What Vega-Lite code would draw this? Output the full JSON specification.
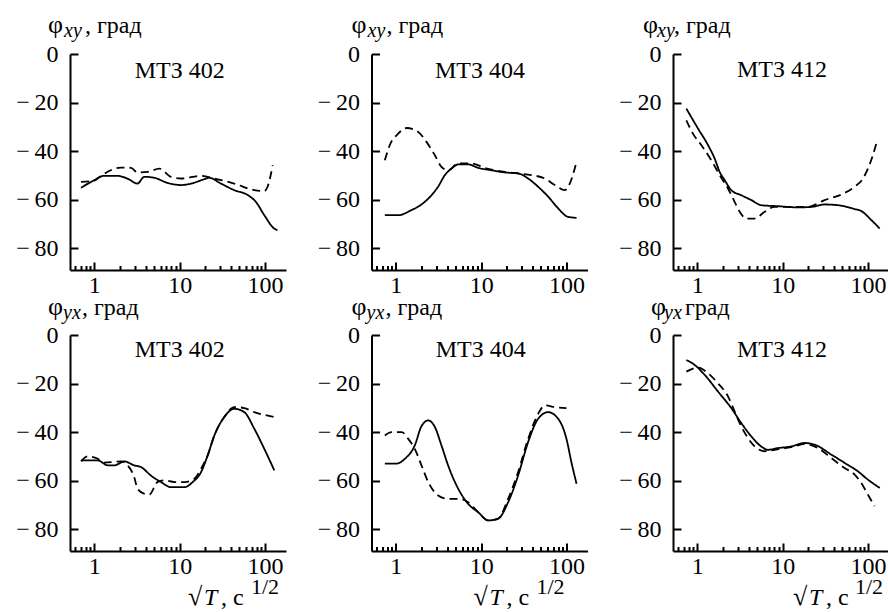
{
  "$schema": "https://vega.github.io/schema/vega-lite/v6.json",
  "background": "white",
  "padding": {"left": 15, "top": 12, "right": 0, "bottom": 0},
  "config": {
    "view": {"stroke": null},
    "font": "Liberation Serif",
    "axis": {"grid": false, "domain": true, "ticks": true, "domainColor": "#000000", "domainWidth": 2, "domainOpacity": 1, "tickColor": "#000000", "tickWidth": 2, "tickOpacity": 1, "labelColor": "black", "labelFont": "Liberation Serif", "labelFontSize": 24, "zindex": 2},
    "text": {"font": "Liberation Serif", "color": "black"}
  },
  "datasets": {
    "curves": [
      {"panel": "xy402", "curve": "solid", "T": 0.70, "phi": -55.1},
      {"panel": "xy402", "curve": "solid", "T": 1.0, "phi": -52},
      {"panel": "xy402", "curve": "solid", "T": 1.3, "phi": -50.2},
      {"panel": "xy402", "curve": "solid", "T": 1.88, "phi": -50.2},
      {"panel": "xy402", "curve": "solid", "T": 2.5, "phi": -51.5},
      {"panel": "xy402", "curve": "solid", "T": 3.2, "phi": -53.4},
      {"panel": "xy402", "curve": "solid", "T": 3.86, "phi": -50.6},
      {"panel": "xy402", "curve": "solid", "T": 5.05, "phi": -51},
      {"panel": "xy402", "curve": "solid", "T": 7.2, "phi": -53.1},
      {"panel": "xy402", "curve": "solid", "T": 10.4, "phi": -54},
      {"panel": "xy402", "curve": "solid", "T": 13.6, "phi": -53.4},
      {"panel": "xy402", "curve": "solid", "T": 19.4, "phi": -51.6},
      {"panel": "xy402", "curve": "solid", "T": 22.2, "phi": -51},
      {"panel": "xy402", "curve": "solid", "T": 30.5, "phi": -53.4},
      {"panel": "xy402", "curve": "solid", "T": 43.6, "phi": -56.1},
      {"panel": "xy402", "curve": "solid", "T": 62.6, "phi": -58.1},
      {"panel": "xy402", "curve": "solid", "T": 78, "phi": -60.9},
      {"panel": "xy402", "curve": "solid", "T": 98, "phi": -66.4},
      {"panel": "xy402", "curve": "solid", "T": 128, "phi": -71.9},
      {"panel": "xy402", "curve": "solid", "T": 140, "phi": -72.6},
      {"panel": "xy402", "curve": "dashed", "T": 0.70, "phi": -52.7},
      {"panel": "xy402", "curve": "dashed", "T": 1.0, "phi": -52.2},
      {"panel": "xy402", "curve": "dashed", "T": 1.2, "phi": -50.2},
      {"panel": "xy402", "curve": "dashed", "T": 2.05, "phi": -46.8},
      {"panel": "xy402", "curve": "dashed", "T": 2.7, "phi": -46.9},
      {"panel": "xy402", "curve": "dashed", "T": 3.2, "phi": -48.8},
      {"panel": "xy402", "curve": "dashed", "T": 4.2, "phi": -48.6},
      {"panel": "xy402", "curve": "dashed", "T": 5.8, "phi": -47.2},
      {"panel": "xy402", "curve": "dashed", "T": 7.9, "phi": -50.6},
      {"panel": "xy402", "curve": "dashed", "T": 10.4, "phi": -51.3},
      {"panel": "xy402", "curve": "dashed", "T": 17.8, "phi": -50.2},
      {"panel": "xy402", "curve": "dashed", "T": 25.5, "phi": -51.3},
      {"panel": "xy402", "curve": "dashed", "T": 43.6, "phi": -53.4},
      {"panel": "xy402", "curve": "dashed", "T": 74.8, "phi": -56.1},
      {"panel": "xy402", "curve": "dashed", "T": 98, "phi": -56.5},
      {"panel": "xy402", "curve": "dashed", "T": 107, "phi": -54.7},
      {"panel": "xy402", "curve": "dashed", "T": 123, "phi": -45.8},
      {"panel": "xy404", "curve": "solid", "T": 0.745, "phi": -66.4},
      {"panel": "xy404", "curve": "solid", "T": 1.07, "phi": -66.4},
      {"panel": "xy404", "curve": "solid", "T": 1.53, "phi": -64.3},
      {"panel": "xy404", "curve": "solid", "T": 2.0, "phi": -62},
      {"panel": "xy404", "curve": "solid", "T": 2.62, "phi": -58.2},
      {"panel": "xy404", "curve": "solid", "T": 3.13, "phi": -54.7},
      {"panel": "xy404", "curve": "solid", "T": 3.76, "phi": -49.9},
      {"panel": "xy404", "curve": "solid", "T": 4.5, "phi": -47.2},
      {"panel": "xy404", "curve": "solid", "T": 5.4, "phi": -45.5},
      {"panel": "xy404", "curve": "solid", "T": 7.05, "phi": -45.5},
      {"panel": "xy404", "curve": "solid", "T": 9.2, "phi": -46.9},
      {"panel": "xy404", "curve": "solid", "T": 13.2, "phi": -47.9},
      {"panel": "xy404", "curve": "solid", "T": 18.9, "phi": -48.8},
      {"panel": "xy404", "curve": "solid", "T": 27.1, "phi": -49.2},
      {"panel": "xy404", "curve": "solid", "T": 35.5, "phi": -51.3},
      {"panel": "xy404", "curve": "solid", "T": 46.5, "phi": -54.7},
      {"panel": "xy404", "curve": "solid", "T": 61, "phi": -58.8},
      {"panel": "xy404", "curve": "solid", "T": 79.8, "phi": -63.6},
      {"panel": "xy404", "curve": "solid", "T": 104, "phi": -67.1},
      {"panel": "xy404", "curve": "solid", "T": 131, "phi": -67.5},
      {"panel": "xy404", "curve": "dashed", "T": 0.745, "phi": -43.8},
      {"panel": "xy404", "curve": "dashed", "T": 0.85, "phi": -37.6},
      {"panel": "xy404", "curve": "dashed", "T": 1.07, "phi": -32.8},
      {"panel": "xy404", "curve": "dashed", "T": 1.34, "phi": -30.5},
      {"panel": "xy404", "curve": "dashed", "T": 1.83, "phi": -32.1},
      {"panel": "xy404", "curve": "dashed", "T": 2.29, "phi": -36.2},
      {"panel": "xy404", "curve": "dashed", "T": 2.87, "phi": -41.7},
      {"panel": "xy404", "curve": "dashed", "T": 3.43, "phi": -46.5},
      {"panel": "xy404", "curve": "dashed", "T": 4.1, "phi": -47.9},
      {"panel": "xy404", "curve": "dashed", "T": 5.4, "phi": -45.1},
      {"panel": "xy404", "curve": "dashed", "T": 7.7, "phi": -45.1},
      {"panel": "xy404", "curve": "dashed", "T": 11, "phi": -46.9},
      {"panel": "xy404", "curve": "dashed", "T": 18.9, "phi": -48.6},
      {"panel": "xy404", "curve": "dashed", "T": 27, "phi": -49.2},
      {"panel": "xy404", "curve": "dashed", "T": 38.9, "phi": -49.9},
      {"panel": "xy404", "curve": "dashed", "T": 55.7, "phi": -51.3},
      {"panel": "xy404", "curve": "dashed", "T": 73, "phi": -54},
      {"panel": "xy404", "curve": "dashed", "T": 95.5, "phi": -56.1},
      {"panel": "xy404", "curve": "dashed", "T": 109, "phi": -53.4},
      {"panel": "xy404", "curve": "dashed", "T": 131, "phi": -44.4},
      {"panel": "xy412", "curve": "solid", "T": 0.745, "phi": -22.5},
      {"panel": "xy412", "curve": "solid", "T": 1.02, "phi": -30.7},
      {"panel": "xy412", "curve": "solid", "T": 1.34, "phi": -37.6},
      {"panel": "xy412", "curve": "solid", "T": 1.6, "phi": -43.1},
      {"panel": "xy412", "curve": "solid", "T": 1.83, "phi": -48.6},
      {"panel": "xy412", "curve": "solid", "T": 2.1, "phi": -52},
      {"panel": "xy412", "curve": "solid", "T": 2.5, "phi": -56.1},
      {"panel": "xy412", "curve": "solid", "T": 3.28, "phi": -58.2},
      {"panel": "xy412", "curve": "solid", "T": 4.3, "phi": -60.2},
      {"panel": "xy412", "curve": "solid", "T": 5.6, "phi": -62.3},
      {"panel": "xy412", "curve": "solid", "T": 8.8, "phi": -62.7},
      {"panel": "xy412", "curve": "solid", "T": 15.1, "phi": -63.2},
      {"panel": "xy412", "curve": "solid", "T": 21.7, "phi": -63},
      {"panel": "xy412", "curve": "solid", "T": 31, "phi": -62},
      {"panel": "xy412", "curve": "solid", "T": 44.5, "phi": -62.3},
      {"panel": "xy412", "curve": "solid", "T": 69.7, "phi": -63.9},
      {"panel": "xy412", "curve": "solid", "T": 83.4, "phi": -64.7},
      {"panel": "xy412", "curve": "solid", "T": 109, "phi": -68.4},
      {"panel": "xy412", "curve": "solid", "T": 137, "phi": -71.9},
      {"panel": "xy412", "curve": "dashed", "T": 0.745, "phi": -27.3},
      {"panel": "xy412", "curve": "dashed", "T": 0.89, "phi": -32.8},
      {"panel": "xy412", "curve": "dashed", "T": 1.12, "phi": -37.6},
      {"panel": "xy412", "curve": "dashed", "T": 1.46, "phi": -43.8},
      {"panel": "xy412", "curve": "dashed", "T": 1.83, "phi": -49.9},
      {"panel": "xy412", "curve": "dashed", "T": 2.29, "phi": -55.4},
      {"panel": "xy412", "curve": "dashed", "T": 2.74, "phi": -60.9},
      {"panel": "xy412", "curve": "dashed", "T": 3.14, "phi": -65},
      {"panel": "xy412", "curve": "dashed", "T": 3.76, "phi": -67.8},
      {"panel": "xy412", "curve": "dashed", "T": 4.7, "phi": -67.8},
      {"panel": "xy412", "curve": "dashed", "T": 6.15, "phi": -65},
      {"panel": "xy412", "curve": "dashed", "T": 8.05, "phi": -63},
      {"panel": "xy412", "curve": "dashed", "T": 12.6, "phi": -63},
      {"panel": "xy412", "curve": "dashed", "T": 19.8, "phi": -63},
      {"panel": "xy412", "curve": "dashed", "T": 31, "phi": -60.2},
      {"panel": "xy412", "curve": "dashed", "T": 48.6, "phi": -57.9},
      {"panel": "xy412", "curve": "dashed", "T": 69.7, "phi": -54.7},
      {"panel": "xy412", "curve": "dashed", "T": 87.3, "phi": -51.3},
      {"panel": "xy412", "curve": "dashed", "T": 99.8, "phi": -47.2},
      {"panel": "xy412", "curve": "dashed", "T": 114, "phi": -41.7},
      {"panel": "xy412", "curve": "dashed", "T": 125, "phi": -36.9},
      {"panel": "yx402", "curve": "solid", "T": 0.7, "phi": -51.7},
      {"panel": "yx402", "curve": "solid", "T": 1.1, "phi": -51.7},
      {"panel": "yx402", "curve": "solid", "T": 1.44, "phi": -53.7},
      {"panel": "yx402", "curve": "solid", "T": 1.72, "phi": -53.7},
      {"panel": "yx402", "curve": "solid", "T": 2.25, "phi": -52.1},
      {"panel": "yx402", "curve": "solid", "T": 2.94, "phi": -53.7},
      {"panel": "yx402", "curve": "solid", "T": 3.52, "phi": -54.4},
      {"panel": "yx402", "curve": "solid", "T": 4.6, "phi": -57.9},
      {"panel": "yx402", "curve": "solid", "T": 6.05, "phi": -60.6},
      {"panel": "yx402", "curve": "solid", "T": 7.9, "phi": -62.7},
      {"panel": "yx402", "curve": "solid", "T": 11.4, "phi": -62.7},
      {"panel": "yx402", "curve": "solid", "T": 14.2, "phi": -60.6},
      {"panel": "yx402", "curve": "solid", "T": 17.8, "phi": -56.5},
      {"panel": "yx402", "curve": "solid", "T": 21.3, "phi": -49.6},
      {"panel": "yx402", "curve": "solid", "T": 25.5, "phi": -41.4},
      {"panel": "yx402", "curve": "solid", "T": 33.3, "phi": -33.8},
      {"panel": "yx402", "curve": "solid", "T": 43.7, "phi": -30.4},
      {"panel": "yx402", "curve": "solid", "T": 57.2, "phi": -31.8},
      {"panel": "yx402", "curve": "solid", "T": 74.8, "phi": -38.6},
      {"panel": "yx402", "curve": "solid", "T": 98, "phi": -46.9},
      {"panel": "yx402", "curve": "solid", "T": 128.5, "phi": -55.8},
      {"panel": "yx402", "curve": "dashed", "T": 0.7, "phi": -52.1},
      {"panel": "yx402", "curve": "dashed", "T": 0.84, "phi": -50},
      {"panel": "yx402", "curve": "dashed", "T": 1.1, "phi": -51},
      {"panel": "yx402", "curve": "dashed", "T": 1.31, "phi": -52.6},
      {"panel": "yx402", "curve": "dashed", "T": 2.06, "phi": -52.1},
      {"panel": "yx402", "curve": "dashed", "T": 2.46, "phi": -53.7},
      {"panel": "yx402", "curve": "dashed", "T": 2.94, "phi": -58.6},
      {"panel": "yx402", "curve": "dashed", "T": 3.22, "phi": -63.4},
      {"panel": "yx402", "curve": "dashed", "T": 3.85, "phi": -65.4},
      {"panel": "yx402", "curve": "dashed", "T": 4.4, "phi": -65.8},
      {"panel": "yx402", "curve": "dashed", "T": 5.5, "phi": -60.6},
      {"panel": "yx402", "curve": "dashed", "T": 6.6, "phi": -59.9},
      {"panel": "yx402", "curve": "dashed", "T": 8.7, "phi": -60.6},
      {"panel": "yx402", "curve": "dashed", "T": 11.4, "phi": -60.6},
      {"panel": "yx402", "curve": "dashed", "T": 14.9, "phi": -59.2},
      {"panel": "yx402", "curve": "dashed", "T": 17.8, "phi": -55.1},
      {"panel": "yx402", "curve": "dashed", "T": 21.3, "phi": -49.6},
      {"panel": "yx402", "curve": "dashed", "T": 25.5, "phi": -41.4},
      {"panel": "yx402", "curve": "dashed", "T": 33.3, "phi": -33.8},
      {"panel": "yx402", "curve": "dashed", "T": 43.7, "phi": -29.7},
      {"panel": "yx402", "curve": "dashed", "T": 57, "phi": -30.1},
      {"panel": "yx402", "curve": "dashed", "T": 74.8, "phi": -31.8},
      {"panel": "yx402", "curve": "dashed", "T": 98, "phi": -32.9},
      {"panel": "yx402", "curve": "dashed", "T": 128.5, "phi": -33.8},
      {"panel": "yx404", "curve": "solid", "T": 0.745, "phi": -53},
      {"panel": "yx404", "curve": "solid", "T": 1.02, "phi": -53},
      {"panel": "yx404", "curve": "solid", "T": 1.28, "phi": -51},
      {"panel": "yx404", "curve": "solid", "T": 1.67, "phi": -45.5},
      {"panel": "yx404", "curve": "solid", "T": 2.0, "phi": -37.6},
      {"panel": "yx404", "curve": "solid", "T": 2.4, "phi": -35.2},
      {"panel": "yx404", "curve": "solid", "T": 2.87, "phi": -37.9},
      {"panel": "yx404", "curve": "solid", "T": 3.43, "phi": -45.5},
      {"panel": "yx404", "curve": "solid", "T": 4.1, "phi": -53.7},
      {"panel": "yx404", "curve": "solid", "T": 5.4, "phi": -63.4},
      {"panel": "yx404", "curve": "solid", "T": 7.05, "phi": -69.6},
      {"panel": "yx404", "curve": "solid", "T": 9.2, "phi": -73},
      {"panel": "yx404", "curve": "solid", "T": 12.1, "phi": -76.4},
      {"panel": "yx404", "curve": "solid", "T": 15.8, "phi": -75.7},
      {"panel": "yx404", "curve": "solid", "T": 20.7, "phi": -68.9},
      {"panel": "yx404", "curve": "solid", "T": 27.1, "phi": -57.9},
      {"panel": "yx404", "curve": "solid", "T": 35.5, "phi": -44.1},
      {"panel": "yx404", "curve": "solid", "T": 46.5, "phi": -34.5},
      {"panel": "yx404", "curve": "solid", "T": 61, "phi": -31.8},
      {"panel": "yx404", "curve": "solid", "T": 79.8, "phi": -34.5},
      {"panel": "yx404", "curve": "solid", "T": 99.8, "phi": -42.8},
      {"panel": "yx404", "curve": "solid", "T": 114, "phi": -52.4},
      {"panel": "yx404", "curve": "solid", "T": 131, "phi": -61.3},
      {"panel": "yx404", "curve": "dashed", "T": 0.745, "phi": -41.4},
      {"panel": "yx404", "curve": "dashed", "T": 0.89, "phi": -40},
      {"panel": "yx404", "curve": "dashed", "T": 1.17, "phi": -40},
      {"panel": "yx404", "curve": "dashed", "T": 1.4, "phi": -42.8},
      {"panel": "yx404", "curve": "dashed", "T": 1.67, "phi": -46.9},
      {"panel": "yx404", "curve": "dashed", "T": 2.0, "phi": -53.7},
      {"panel": "yx404", "curve": "dashed", "T": 2.4, "phi": -60.6},
      {"panel": "yx404", "curve": "dashed", "T": 3.14, "phi": -66.1},
      {"panel": "yx404", "curve": "dashed", "T": 4.1, "phi": -67.5},
      {"panel": "yx404", "curve": "dashed", "T": 5.4, "phi": -67.5},
      {"panel": "yx404", "curve": "dashed", "T": 7.05, "phi": -68.9},
      {"panel": "yx404", "curve": "dashed", "T": 9.2, "phi": -73},
      {"panel": "yx404", "curve": "dashed", "T": 12.1, "phi": -76.4},
      {"panel": "yx404", "curve": "dashed", "T": 15.8, "phi": -75.7},
      {"panel": "yx404", "curve": "dashed", "T": 20.7, "phi": -67.5},
      {"panel": "yx404", "curve": "dashed", "T": 27.1, "phi": -56.5},
      {"panel": "yx404", "curve": "dashed", "T": 35.5, "phi": -42.8},
      {"panel": "yx404", "curve": "dashed", "T": 46.5, "phi": -32.5},
      {"panel": "yx404", "curve": "dashed", "T": 55.7, "phi": -29},
      {"panel": "yx404", "curve": "dashed", "T": 73, "phi": -29.7},
      {"panel": "yx404", "curve": "dashed", "T": 99.8, "phi": -30.1},
      {"panel": "yx412", "curve": "solid", "T": 0.745, "phi": -10.3},
      {"panel": "yx412", "curve": "solid", "T": 0.93, "phi": -12.3},
      {"panel": "yx412", "curve": "solid", "T": 1.22, "phi": -16.4},
      {"panel": "yx412", "curve": "solid", "T": 1.75, "phi": -23.3},
      {"panel": "yx412", "curve": "solid", "T": 2.5, "phi": -30.1},
      {"panel": "yx412", "curve": "solid", "T": 3.28, "phi": -36.3},
      {"panel": "yx412", "curve": "solid", "T": 4.3, "phi": -41.8},
      {"panel": "yx412", "curve": "solid", "T": 5.6, "phi": -45.9},
      {"panel": "yx412", "curve": "solid", "T": 6.7, "phi": -47.3},
      {"panel": "yx412", "curve": "solid", "T": 8.8, "phi": -46.6},
      {"panel": "yx412", "curve": "solid", "T": 12.6, "phi": -45.9},
      {"panel": "yx412", "curve": "solid", "T": 18.1, "phi": -44.5},
      {"panel": "yx412", "curve": "solid", "T": 23.7, "phi": -45.2},
      {"panel": "yx412", "curve": "solid", "T": 37.2, "phi": -49.3},
      {"panel": "yx412", "curve": "solid", "T": 53.2, "phi": -52.7},
      {"panel": "yx412", "curve": "solid", "T": 76.2, "phi": -56.2},
      {"panel": "yx412", "curve": "solid", "T": 99.8, "phi": -59.6},
      {"panel": "yx412", "curve": "solid", "T": 137, "phi": -63},
      {"panel": "yx412", "curve": "dashed", "T": 0.745, "phi": -15.1},
      {"panel": "yx412", "curve": "dashed", "T": 1.02, "phi": -13.4},
      {"panel": "yx412", "curve": "dashed", "T": 1.34, "phi": -15.8},
      {"panel": "yx412", "curve": "dashed", "T": 1.75, "phi": -19.9},
      {"panel": "yx412", "curve": "dashed", "T": 2.29, "phi": -25.3},
      {"panel": "yx412", "curve": "dashed", "T": 2.74, "phi": -31.5},
      {"panel": "yx412", "curve": "dashed", "T": 3.28, "phi": -37.7},
      {"panel": "yx412", "curve": "dashed", "T": 3.93, "phi": -42.5},
      {"panel": "yx412", "curve": "dashed", "T": 4.7, "phi": -45.9},
      {"panel": "yx412", "curve": "dashed", "T": 6.15, "phi": -47.9},
      {"panel": "yx412", "curve": "dashed", "T": 8.05, "phi": -47.3},
      {"panel": "yx412", "curve": "dashed", "T": 12.6, "phi": -46.2},
      {"panel": "yx412", "curve": "dashed", "T": 18.1, "phi": -44.9},
      {"panel": "yx412", "curve": "dashed", "T": 25.9, "phi": -46.6},
      {"panel": "yx412", "curve": "dashed", "T": 37.2, "phi": -50.7},
      {"panel": "yx412", "curve": "dashed", "T": 53.2, "phi": -54.8},
      {"panel": "yx412", "curve": "dashed", "T": 69.7, "phi": -57.5},
      {"panel": "yx412", "curve": "dashed", "T": 83.4, "phi": -61},
      {"panel": "yx412", "curve": "dashed", "T": 99.8, "phi": -65.8},
      {"panel": "yx412", "curve": "dashed", "T": 119, "phi": -70.5}
    ]
  },
  "columns": 3,
  "bounds": "flush",
  "spacing": {"row": 65, "column": 85.5},
  "concat": [
    {
      "width": 216, "height": 216,
      "layer": [
        {"data": {"name": "curves"}, "transform": [{"filter": "datum.panel == 'xy402'"}],
         "mark": {"type": "line", "color": "black", "strokeWidth": 1.8, "interpolate": "monotone"},
         "encoding": {
           "x": {"field": "T", "type": "quantitative", "scale": {"type": "log", "domain": [0.52, 176], "nice": false}, "axis": {"title": null, "ticks": true, "values": [0.6,0.7,0.8,0.9,1,2,3,4,5,6,7,8,9,10,20,30,40,50,60,70,80,90,100], "labelExpr": "datum.value == 1 || datum.value == 10 || datum.value == 100 ? '' + datum.value : ''", "tickSize": {"condition": {"test": "datum.value == 1 || datum.value == 10 || datum.value == 100", "value": -8}, "value": -4.5}, "labelPadding": 11, "labelOverlap": false, "labelFlush": false}},
           "y": {"field": "phi", "type": "quantitative", "scale": {"domain": [-89, 0], "nice": false}, "axis": {"title": null, "ticks": true, "values": [0,-20,-40,-60,-80], "tickSize": -8, "labelPadding": 20, "labelExpr": "datum.value < 0 ? '−\u2009' + abs(datum.value) : '0'"}},
           "strokeDash": {"field": "curve", "type": "nominal", "scale": {"domain": ["solid", "dashed"], "range": [[1, 0], [8, 5]]}, "legend": null}
         }},
        {"data": {"values": [{}]}, "mark": {"type": "text", "text": "МТЗ 402", "fontSize": 24}, "encoding": {"x": {"datum": 10}, "y": {"datum": -7}}},
        {"data": {"values": [{}]}, "mark": {"type": "text", "text": "φ", "fontSize": 26, "align": "left", "baseline": "alphabetic", "dx": -22}, "encoding": {"x": {"datum": 0.52}, "y": {"datum": 8.6}}},
        {"data": {"values": [{}]}, "mark": {"type": "text", "text": "xy", "fontSize": 20, "fontStyle": "italic", "align": "left", "baseline": "alphabetic", "dx": -6, "dy": 4}, "encoding": {"x": {"datum": 0.52}, "y": {"datum": 8.6}}},
        {"data": {"values": [{}]}, "mark": {"type": "text", "text": ", град", "fontSize": 24, "align": "left", "baseline": "alphabetic", "dx": 15}, "encoding": {"x": {"datum": 0.52}, "y": {"datum": 8.6}}}
      ]
    },
    {
      "width": 216, "height": 216,
      "layer": [
        {"data": {"name": "curves"}, "transform": [{"filter": "datum.panel == 'xy404'"}],
         "mark": {"type": "line", "color": "black", "strokeWidth": 1.8, "interpolate": "monotone"},
         "encoding": {
           "x": {"field": "T", "type": "quantitative", "scale": {"type": "log", "domain": [0.52, 176], "nice": false}, "axis": {"title": null, "ticks": true, "values": [0.6,0.7,0.8,0.9,1,2,3,4,5,6,7,8,9,10,20,30,40,50,60,70,80,90,100], "labelExpr": "datum.value == 1 || datum.value == 10 || datum.value == 100 ? '' + datum.value : ''", "tickSize": {"condition": {"test": "datum.value == 1 || datum.value == 10 || datum.value == 100", "value": -8}, "value": -4.5}, "labelPadding": 11, "labelOverlap": false, "labelFlush": false}},
           "y": {"field": "phi", "type": "quantitative", "scale": {"domain": [-89, 0], "nice": false}, "axis": {"title": null, "ticks": true, "values": [0,-20,-40,-60,-80], "tickSize": -8, "labelPadding": 20, "labelExpr": "datum.value < 0 ? '−\u2009' + abs(datum.value) : '0'"}},
           "strokeDash": {"field": "curve", "type": "nominal", "scale": {"domain": ["solid", "dashed"], "range": [[1, 0], [8, 5]]}, "legend": null}
         }},
        {"data": {"values": [{}]}, "mark": {"type": "text", "text": "МТЗ 404", "fontSize": 24}, "encoding": {"x": {"datum": 9.7}, "y": {"datum": -7}}},
        {"data": {"values": [{}]}, "mark": {"type": "text", "text": "φ", "fontSize": 26, "align": "left", "baseline": "alphabetic", "dx": -20}, "encoding": {"x": {"datum": 0.52}, "y": {"datum": 8.6}}},
        {"data": {"values": [{}]}, "mark": {"type": "text", "text": "xy", "fontSize": 20, "fontStyle": "italic", "align": "left", "baseline": "alphabetic", "dx": -4, "dy": 4}, "encoding": {"x": {"datum": 0.52}, "y": {"datum": 8.6}}},
        {"data": {"values": [{}]}, "mark": {"type": "text", "text": ", град", "fontSize": 24, "align": "left", "baseline": "alphabetic", "dx": 15}, "encoding": {"x": {"datum": 0.52}, "y": {"datum": 8.6}}}
      ]
    },
    {
      "width": 216, "height": 216,
      "layer": [
        {"data": {"name": "curves"}, "transform": [{"filter": "datum.panel == 'xy412'"}],
         "mark": {"type": "line", "color": "black", "strokeWidth": 1.8, "interpolate": "monotone"},
         "encoding": {
           "x": {"field": "T", "type": "quantitative", "scale": {"type": "log", "domain": [0.52, 176], "nice": false}, "axis": {"title": null, "ticks": true, "values": [0.6,0.7,0.8,0.9,1,2,3,4,5,6,7,8,9,10,20,30,40,50,60,70,80,90,100], "labelExpr": "datum.value == 1 || datum.value == 10 || datum.value == 100 ? '' + datum.value : ''", "tickSize": {"condition": {"test": "datum.value == 1 || datum.value == 10 || datum.value == 100", "value": -8}, "value": -4.5}, "labelPadding": 11, "labelOverlap": false, "labelFlush": false}},
           "y": {"field": "phi", "type": "quantitative", "scale": {"domain": [-89, 0], "nice": false}, "axis": {"title": null, "ticks": true, "values": [0,-20,-40,-60,-80], "tickSize": -8, "labelPadding": 20, "labelExpr": "datum.value < 0 ? '−\u2009' + abs(datum.value) : '0'"}},
           "strokeDash": {"field": "curve", "type": "nominal", "scale": {"domain": ["solid", "dashed"], "range": [[1, 0], [8, 5]]}, "legend": null}
         }},
        {"data": {"values": [{}]}, "mark": {"type": "text", "text": "МТЗ 412", "fontSize": 24}, "encoding": {"x": {"datum": 9.8}, "y": {"datum": -6.7}}},
        {"data": {"values": [{}]}, "mark": {"type": "text", "text": "φ", "fontSize": 26, "align": "left", "baseline": "alphabetic", "dx": -30}, "encoding": {"x": {"datum": 0.52}, "y": {"datum": 8.6}}},
        {"data": {"values": [{}]}, "mark": {"type": "text", "text": "xy", "fontSize": 20, "fontStyle": "italic", "align": "left", "baseline": "alphabetic", "dx": -16, "dy": 4}, "encoding": {"x": {"datum": 0.52}, "y": {"datum": 8.6}}},
        {"data": {"values": [{}]}, "mark": {"type": "text", "text": ", град", "fontSize": 24, "align": "left", "baseline": "alphabetic", "dx": 1}, "encoding": {"x": {"datum": 0.52}, "y": {"datum": 8.6}}}
      ]
    },
    {
      "width": 216, "height": 216,
      "layer": [
        {"data": {"name": "curves"}, "transform": [{"filter": "datum.panel == 'yx402'"}],
         "mark": {"type": "line", "color": "black", "strokeWidth": 1.8, "interpolate": "monotone"},
         "encoding": {
           "x": {"field": "T", "type": "quantitative", "scale": {"type": "log", "domain": [0.52, 176], "nice": false}, "axis": {"title": null, "ticks": true, "values": [0.6,0.7,0.8,0.9,1,2,3,4,5,6,7,8,9,10,20,30,40,50,60,70,80,90,100], "labelExpr": "datum.value == 1 || datum.value == 10 || datum.value == 100 ? '' + datum.value : ''", "tickSize": {"condition": {"test": "datum.value == 1 || datum.value == 10 || datum.value == 100", "value": -8}, "value": -4.5}, "labelPadding": 11, "labelOverlap": false, "labelFlush": false}},
           "y": {"field": "phi", "type": "quantitative", "scale": {"domain": [-89, 0], "nice": false}, "axis": {"title": null, "ticks": true, "values": [0,-20,-40,-60,-80], "tickSize": -8, "labelPadding": 20, "labelExpr": "datum.value < 0 ? '−\u2009' + abs(datum.value) : '0'"}},
           "strokeDash": {"field": "curve", "type": "nominal", "scale": {"domain": ["solid", "dashed"], "range": [[1, 0], [8, 5]]}, "legend": null}
         }},
        {"data": {"values": [{}]}, "mark": {"type": "text", "text": "МТЗ 402", "fontSize": 24}, "encoding": {"x": {"datum": 10}, "y": {"datum": -6.2}}},
        {"data": {"values": [{}]}, "mark": {"type": "text", "text": "φ", "fontSize": 26, "align": "left", "baseline": "alphabetic", "dx": -22}, "encoding": {"x": {"datum": 0.52}, "y": {"datum": 8.2}}},
        {"data": {"values": [{}]}, "mark": {"type": "text", "text": "yx", "fontSize": 20, "fontStyle": "italic", "align": "left", "baseline": "alphabetic", "dx": -7, "dy": 4}, "encoding": {"x": {"datum": 0.52}, "y": {"datum": 8.2}}},
        {"data": {"values": [{}]}, "mark": {"type": "text", "text": ", град", "fontSize": 24, "align": "left", "baseline": "alphabetic", "dx": 12}, "encoding": {"x": {"datum": 0.52}, "y": {"datum": 8.2}}},
        {"data": {"values": [{}]}, "mark": {"type": "text", "text": "√", "fontSize": 26, "align": "left", "baseline": "alphabetic", "dx": -98, "dy": 54}, "encoding": {"x": {"datum": 176}, "y": {"datum": -89}}},
        {"data": {"values": [{}]}, "mark": {"type": "text", "text": "T", "fontSize": 24, "fontStyle": "italic", "align": "left", "baseline": "alphabetic", "dx": -82, "dy": 54}, "encoding": {"x": {"datum": 176}, "y": {"datum": -89}}},
        {"data": {"values": [{}]}, "mark": {"type": "text", "text": ", c", "fontSize": 24, "align": "left", "baseline": "alphabetic", "dx": -65, "dy": 54}, "encoding": {"x": {"datum": 176}, "y": {"datum": -89}}},
        {"data": {"values": [{}]}, "mark": {"type": "text", "text": "1/2", "fontSize": 22, "align": "left", "baseline": "alphabetic", "dx": -35, "dy": 43}, "encoding": {"x": {"datum": 176}, "y": {"datum": -89}}}
      ]
    },
    {
      "width": 216, "height": 216,
      "layer": [
        {"data": {"name": "curves"}, "transform": [{"filter": "datum.panel == 'yx404'"}],
         "mark": {"type": "line", "color": "black", "strokeWidth": 1.8, "interpolate": "monotone"},
         "encoding": {
           "x": {"field": "T", "type": "quantitative", "scale": {"type": "log", "domain": [0.52, 176], "nice": false}, "axis": {"title": null, "ticks": true, "values": [0.6,0.7,0.8,0.9,1,2,3,4,5,6,7,8,9,10,20,30,40,50,60,70,80,90,100], "labelExpr": "datum.value == 1 || datum.value == 10 || datum.value == 100 ? '' + datum.value : ''", "tickSize": {"condition": {"test": "datum.value == 1 || datum.value == 10 || datum.value == 100", "value": -8}, "value": -4.5}, "labelPadding": 11, "labelOverlap": false, "labelFlush": false}},
           "y": {"field": "phi", "type": "quantitative", "scale": {"domain": [-89, 0], "nice": false}, "axis": {"title": null, "ticks": true, "values": [0,-20,-40,-60,-80], "tickSize": -8, "labelPadding": 20, "labelExpr": "datum.value < 0 ? '−\u2009' + abs(datum.value) : '0'"}},
           "strokeDash": {"field": "curve", "type": "nominal", "scale": {"domain": ["solid", "dashed"], "range": [[1, 0], [8, 5]]}, "legend": null}
         }},
        {"data": {"values": [{}]}, "mark": {"type": "text", "text": "МТЗ 404", "fontSize": 24}, "encoding": {"x": {"datum": 9.9}, "y": {"datum": -6.2}}},
        {"data": {"values": [{}]}, "mark": {"type": "text", "text": "φ", "fontSize": 26, "align": "left", "baseline": "alphabetic", "dx": -20}, "encoding": {"x": {"datum": 0.52}, "y": {"datum": 8.2}}},
        {"data": {"values": [{}]}, "mark": {"type": "text", "text": "yx", "fontSize": 20, "fontStyle": "italic", "align": "left", "baseline": "alphabetic", "dx": -5, "dy": 4}, "encoding": {"x": {"datum": 0.52}, "y": {"datum": 8.2}}},
        {"data": {"values": [{}]}, "mark": {"type": "text", "text": ", град", "fontSize": 24, "align": "left", "baseline": "alphabetic", "dx": 14}, "encoding": {"x": {"datum": 0.52}, "y": {"datum": 8.2}}},
        {"data": {"values": [{}]}, "mark": {"type": "text", "text": "√", "fontSize": 26, "align": "left", "baseline": "alphabetic", "dx": -114, "dy": 54}, "encoding": {"x": {"datum": 176}, "y": {"datum": -89}}},
        {"data": {"values": [{}]}, "mark": {"type": "text", "text": "T", "fontSize": 24, "fontStyle": "italic", "align": "left", "baseline": "alphabetic", "dx": -98, "dy": 54}, "encoding": {"x": {"datum": 176}, "y": {"datum": -89}}},
        {"data": {"values": [{}]}, "mark": {"type": "text", "text": ", c", "fontSize": 24, "align": "left", "baseline": "alphabetic", "dx": -81, "dy": 54}, "encoding": {"x": {"datum": 176}, "y": {"datum": -89}}},
        {"data": {"values": [{}]}, "mark": {"type": "text", "text": "1/2", "fontSize": 22, "align": "left", "baseline": "alphabetic", "dx": -51, "dy": 43}, "encoding": {"x": {"datum": 176}, "y": {"datum": -89}}}
      ]
    },
    {
      "width": 216, "height": 216,
      "layer": [
        {"data": {"name": "curves"}, "transform": [{"filter": "datum.panel == 'yx412'"}],
         "mark": {"type": "line", "color": "black", "strokeWidth": 1.8, "interpolate": "monotone"},
         "encoding": {
           "x": {"field": "T", "type": "quantitative", "scale": {"type": "log", "domain": [0.52, 176], "nice": false}, "axis": {"title": null, "ticks": true, "values": [0.6,0.7,0.8,0.9,1,2,3,4,5,6,7,8,9,10,20,30,40,50,60,70,80,90,100], "labelExpr": "datum.value == 1 || datum.value == 10 || datum.value == 100 ? '' + datum.value : ''", "tickSize": {"condition": {"test": "datum.value == 1 || datum.value == 10 || datum.value == 100", "value": -8}, "value": -4.5}, "labelPadding": 11, "labelOverlap": false, "labelFlush": false}},
           "y": {"field": "phi", "type": "quantitative", "scale": {"domain": [-89, 0], "nice": false}, "axis": {"title": null, "ticks": true, "values": [0,-20,-40,-60,-80], "tickSize": -8, "labelPadding": 20, "labelExpr": "datum.value < 0 ? '−\u2009' + abs(datum.value) : '0'"}},
           "strokeDash": {"field": "curve", "type": "nominal", "scale": {"domain": ["solid", "dashed"], "range": [[1, 0], [8, 5]]}, "legend": null}
         }},
        {"data": {"values": [{}]}, "mark": {"type": "text", "text": "МТЗ 412", "fontSize": 24}, "encoding": {"x": {"datum": 9.8}, "y": {"datum": -6.2}}},
        {"data": {"values": [{}]}, "mark": {"type": "text", "text": "φ", "fontSize": 26, "align": "left", "baseline": "alphabetic", "dx": -22}, "encoding": {"x": {"datum": 0.52}, "y": {"datum": 8.2}}},
        {"data": {"values": [{}]}, "mark": {"type": "text", "text": "yx", "fontSize": 20, "fontStyle": "italic", "align": "left", "baseline": "alphabetic", "dx": -9, "dy": 4}, "encoding": {"x": {"datum": 0.52}, "y": {"datum": 8.2}}},
        {"data": {"values": [{}]}, "mark": {"type": "text", "text": "град", "fontSize": 24, "align": "left", "baseline": "alphabetic", "dx": 12}, "encoding": {"x": {"datum": 0.52}, "y": {"datum": 8.2}}},
        {"data": {"values": [{}]}, "mark": {"type": "text", "text": "√", "fontSize": 26, "align": "left", "baseline": "alphabetic", "dx": -96, "dy": 54}, "encoding": {"x": {"datum": 176}, "y": {"datum": -89}}},
        {"data": {"values": [{}]}, "mark": {"type": "text", "text": "T", "fontSize": 24, "fontStyle": "italic", "align": "left", "baseline": "alphabetic", "dx": -80, "dy": 54}, "encoding": {"x": {"datum": 176}, "y": {"datum": -89}}},
        {"data": {"values": [{}]}, "mark": {"type": "text", "text": ", c", "fontSize": 24, "align": "left", "baseline": "alphabetic", "dx": -63, "dy": 54}, "encoding": {"x": {"datum": 176}, "y": {"datum": -89}}},
        {"data": {"values": [{}]}, "mark": {"type": "text", "text": "1/2", "fontSize": 22, "align": "left", "baseline": "alphabetic", "dx": -34, "dy": 43}, "encoding": {"x": {"datum": 176}, "y": {"datum": -89}}}
      ]
    }
  ]
}
